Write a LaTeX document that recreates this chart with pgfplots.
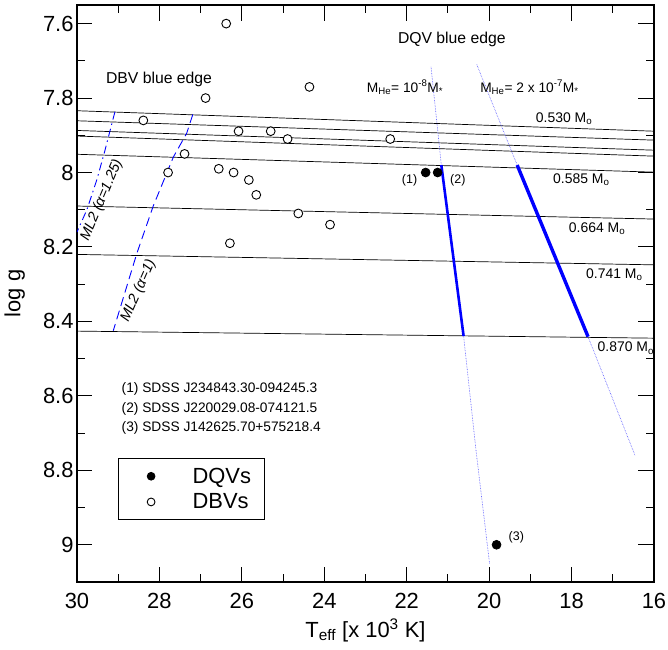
\documentclass[border=0pt]{standalone}
\usepackage{fontspec}
\setmainfont{Liberation Sans}
\usepackage{pgfplots}
\pgfplotsset{compat=1.18}
\newcommand\fs[1]{\fontsize{#1}{#1}\selectfont}
\begin{document}
\begin{tikzpicture}
\begin{axis}[
 scale only axis, width=577bp, height=577bp,
 x dir=reverse, y dir=reverse,
 xmin=16, xmax=30, ymin=7.55, ymax=9.1,
 xtick={16,18,20,22,24,26,28,30},
 ytick={7.6,7.8,8,8.2,8.4,8.6,8.8,9},
 minor x tick num=1, minor y tick num=1,
 tick align=inside, major tick length=15.5bp, minor tick length=8bp,
 axis line style={line width=1.2bp},
 every tick/.style={black, line width=1bp},
 tick label style={font=\fs{22}},
 xticklabel style={yshift=-8bp},
 /pgf/number format/assume math mode=true,
 xlabel={T\textsubscript{eff} [x 10\textsuperscript{3} K]},
 ylabel={log g},
 label style={font=\fs{22}},
 xlabel style={at={([yshift=-55bp]axis description cs:0.5,0)}, anchor=base},
 ylabel style={at={([xshift=-56.5bp]axis description cs:0,0.5)}, anchor=base},
 legend cell align=left,
 legend image code/.code={\path (0bp,0bp) (60bp,0bp); \draw[#1, mark size=3.9bp] plot coordinates {(20bp,0bp)};},
 legend style={at={(axis cs:29,8.768)}, anchor=north west, draw=black, line width=0.9bp,
   font=\fs{22}, inner xsep=12bp, inner ysep=8bp, row sep=7bp,
   nodes={inner sep=1bp, anchor=west}},
]
% mass tracks
\addplot[forget plot, black, line width=0.7bp] coordinates {(30,7.834) (16,7.889)};
\addplot[forget plot, black, line width=0.7bp] coordinates {(30,7.861) (16,7.913)};
\addplot[forget plot, black, line width=0.7bp] coordinates {(30,7.887) (16,7.940)};
\addplot[forget plot, black, line width=0.7bp] coordinates {(30,7.902) (16,7.956)};
\addplot[forget plot, black, line width=0.7bp] coordinates {(30,7.951) (16,7.999)};
\addplot[forget plot, black, line width=0.7bp] coordinates {(30,8.090) (16,8.125)};
\addplot[forget plot, black, line width=0.7bp] coordinates {(30,8.220) (16,8.248)};
\addplot[forget plot, black, line width=0.7bp] coordinates {(30,8.426) (16,8.445)};
% DBV blue edges
\addplot[forget plot, blue, line width=0.9bp, dash pattern=on 8bp off 4bp on 1.5bp off 4bp]
  coordinates {(29.08,7.837) (29.32,7.94) (29.52,8.02) (29.76,8.10) (30,8.16)};
\addplot[forget plot, blue, line width=0.9bp, dash pattern=on 9bp off 5bp]
  coordinates {(27.19,7.844) (27.34,7.895) (27.66,7.958) (28.15,8.09) (28.55,8.218) (29.12,8.425)};
% DQV blue edges dotted extensions
\addplot[forget plot, blue!70, line width=0.6bp, densely dotted]
  coordinates {(21.41,7.716) (21.16,7.98)};
\addplot[forget plot, blue!70, line width=0.6bp, densely dotted]
  coordinates {(20.62,8.439) (20.32,8.745) (19.99,9.05)};
\addplot[forget plot, blue!70, line width=0.6bp, densely dotted]
  coordinates {(20.30,7.71) (19.32,7.98)};
\addplot[forget plot, blue!70, line width=0.6bp, densely dotted]
  coordinates {(17.60,8.441) (16.46,8.76)};
% DQV blue edges thick
\addplot[forget plot, blue, line width=2.6bp] coordinates {(21.16,7.98) (20.62,8.439)};
\addplot[forget plot, blue, line width=3.4bp] coordinates {(19.32,7.98) (17.60,8.441)};
% DQVs
\addplot[only marks, mark=*, mark size=4.4bp, mark options={fill=black, draw=black, line width=0.8bp}]
  coordinates {(21.54,8.0) (21.25,8.0) (19.82,9.0)};
\addlegendentry{DQVs}
% DBVs
\addplot[only marks, mark=*, mark size=4.4bp, mark options={fill=white, draw=black, line width=0.9bp}]
  coordinates {
  (26.38,7.60) (24.36,7.77) (26.88,7.80) (28.39,7.86) (26.08,7.889) (25.30,7.889)
  (24.89,7.91) (22.40,7.91) (27.39,7.95) (26.56,7.99) (27.79,8.00) (26.20,8.00)
  (25.83,8.02) (25.65,8.06) (24.63,8.11) (23.86,8.14) (26.29,8.19)};
\addlegendentry{DBVs}
% texts
\node[font=\fs{15.8}] at (axis cs:28.01,7.7495) {DBV blue edge};
\node[font=\fs{15.8}] at (axis cs:20.905,7.642) {DQV blue edge};
\node[font=\fs{13.8}, anchor=base west, inner sep=0pt] at (axis cs:22.97,7.784)
  {M\textsubscript{He}= 10\textsuperscript{-8}M\textsubscript{*}};
\node[font=\fs{13.8}, anchor=base west, inner sep=0pt] at (axis cs:20.22,7.784)
  {M\textsubscript{He}= 2 x 10\textsuperscript{-7}M\textsubscript{*}};
\node[font=\fs{14}, anchor=base west, inner sep=0pt] at (axis cs:18.87,7.866) {0.530 M\textsubscript{o}};
\node[font=\fs{14}, anchor=base west, inner sep=0pt] at (axis cs:18.45,8.029) {0.585 M\textsubscript{o}};
\node[font=\fs{14}, anchor=base west, inner sep=0pt] at (axis cs:18.07,8.162) {0.664 M\textsubscript{o}};
\node[font=\fs{14}, anchor=base west, inner sep=0pt] at (axis cs:17.65,8.285) {0.741 M\textsubscript{o}};
\node[font=\fs{14}, anchor=base west, inner sep=0pt] at (axis cs:17.37,8.482) {0.870 M\textsubscript{o}};
\node[font=\fs{14.5}\itshape, rotate=67] at (axis cs:29.40,8.074) {ML2 (α=1.25)};
\node[font=\fs{14.5}\itshape, rotate=66] at (axis cs:28.51,8.318) {ML2 (α=1)};
\node[font=\fs{12.5}] at (axis cs:21.93,8.0206) {(1)};
\node[font=\fs{12.5}] at (axis cs:20.76,8.0206) {(2)};
\node[font=\fs{12.5}] at (axis cs:19.34,8.980) {(3)};
\node[font=\fs{13.8}, anchor=base west, inner sep=0pt] at (axis cs:28.92,8.5915) {(1) SDSS J234843.30-094245.3};
\node[font=\fs{13.8}, anchor=base west, inner sep=0pt] at (axis cs:28.92,8.645) {(2) SDSS J220029.08-074121.5};
\node[font=\fs{13.8}, anchor=base west, inner sep=0pt] at (axis cs:28.92,8.695) {(3) SDSS J142625.70+575218.4};
\end{axis}
\pgfresetboundingbox
\useasboundingbox ([shift={(-77bp,-67.3bp)}]current axis.south west) rectangle ([shift={(14bp,5bp)}]current axis.north east);
\end{tikzpicture}
\end{document}
